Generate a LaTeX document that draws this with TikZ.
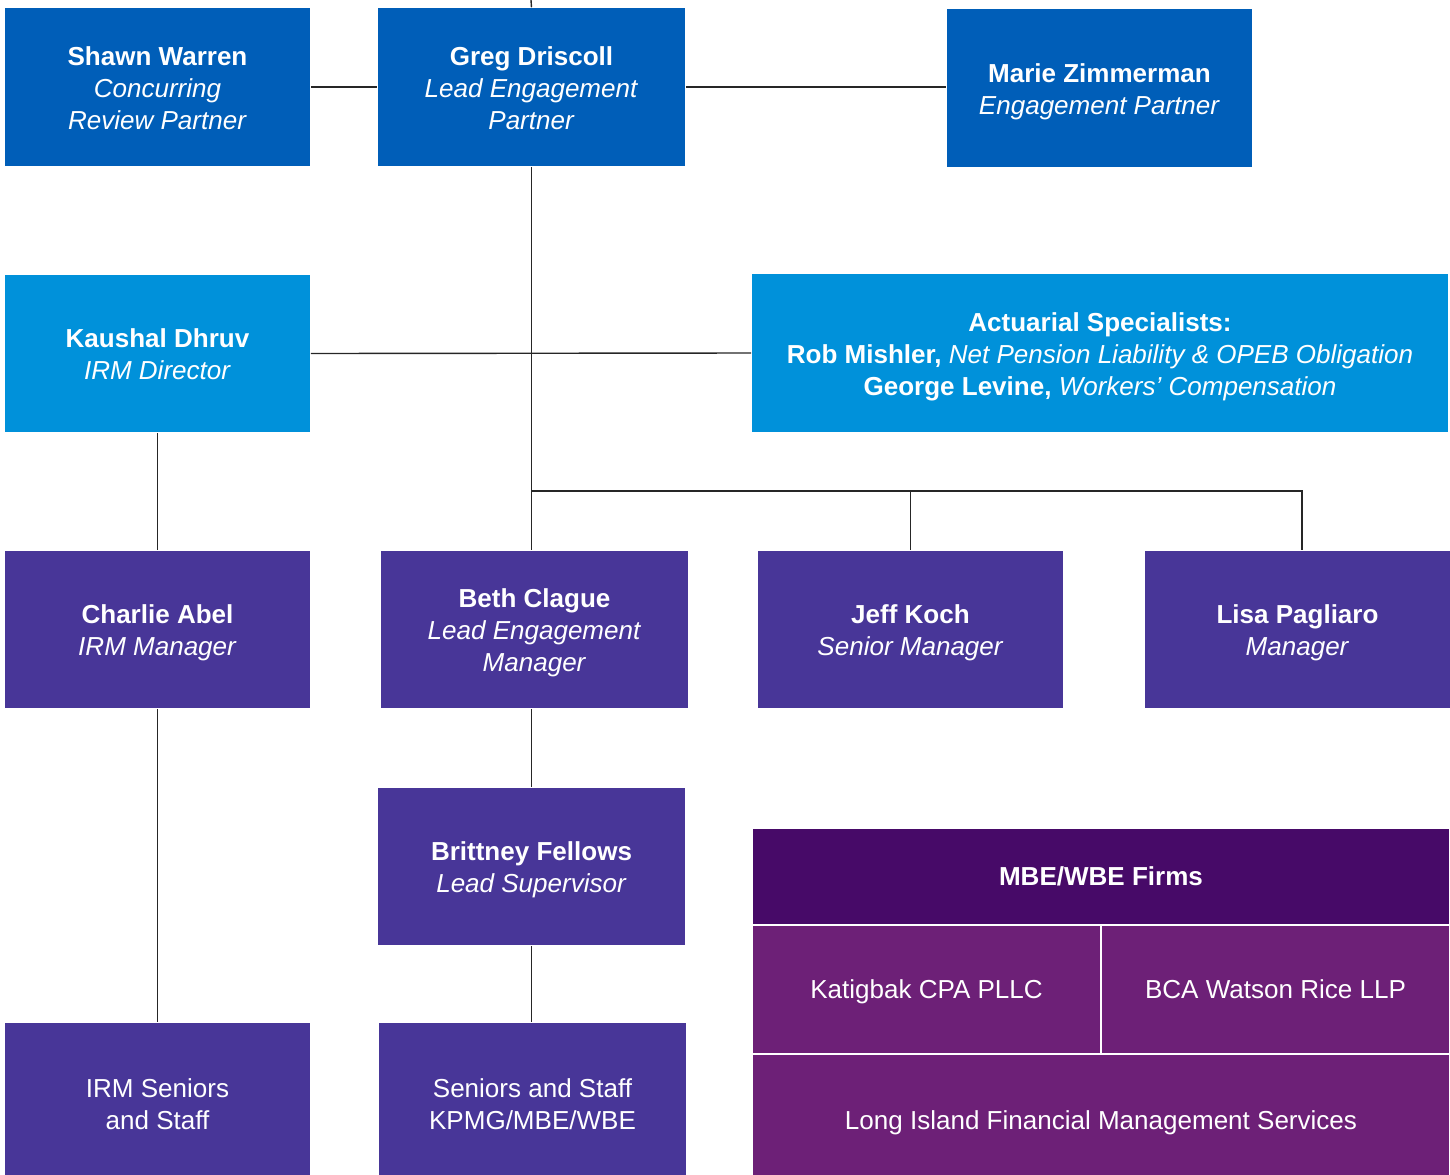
\documentclass[tikz,border=0pt]{standalone}
\usepackage{fontspec}
\setmainfont{Liberation Sans}
\definecolor{kpmgblue}{HTML}{005EB8}
\definecolor{medblue}{HTML}{0091DA}
\definecolor{kpmgpurple}{HTML}{483698}
\definecolor{darkpurple}{HTML}{470A68}
\definecolor{midpurple}{HTML}{6D2077}
\newcommand{\topline}{\rule{0pt}{7.7pt}}
\tikzstyle{person}=[rectangle, text=white, align=center, inner sep=0pt,
    minimum width=3.05cm, minimum height=1.57cm,
    font=\fontsize{7.4}{9.1}\selectfont,
    execute at end node={\rule[-2pt]{0pt}{2pt}}]
\tikzstyle{partner}=[person, fill=kpmgblue]
\tikzstyle{director}=[person, fill=medblue]
\tikzstyle{manager}=[person, fill=kpmgpurple]
\tikzstyle{firm}=[person, fill=midpurple, execute at begin node={\rule{0pt}{7.3pt}}]
\tikzstyle{link}=[draw=black!85, line width=0.4pt]

\begin{document}
\begin{tikzpicture}[x=0.01cm, y=-0.01cm]
  \useasboundingbox (0,0) rectangle (1450,1175);
  % partners
  \node[partner] (shawn) at (157.5,87) {\topline\textbf{Shawn Warren}\\\textit{Concurring}\\\textit{Review Partner}};
  \node[partner, minimum width=3.07cm, minimum height=1.58cm] (greg) at (531.5,87) {\topline\textbf{Greg Driscoll}\\\textit{Lead Engagement}\\\textit{Partner}};
  \node[partner] (marie) at (1099.5,88) {\topline\textbf{Marie Zimmerman}\\\textit{Engagement Partner}};
  \coordinate (top) at (531,0);
  % specialists
  \node[director] (kaushal) at (157.5,353.5) {\topline\textbf{Kaushal Dhruv}\\\textit{IRM Director}};
  \node[director, minimum width=6.96cm, minimum height=1.58cm] (actuarial) at (1100,353) {\topline\textbf{Actuarial Specialists:}\\\textbf{Rob Mishler,} \textit{Net Pension Liability \& OPEB Obligation}\\\textbf{George Levine,} \textit{Workers' Compensation}};
  % managers
  \node[manager] (charlie) at (157.5,629.5) {\topline\textbf{Charlie Abel}\\\textit{IRM Manager}};
  \node[manager, minimum width=3.07cm] (beth) at (534.5,629.5) {\topline\textbf{Beth Clague}\\\textit{Lead Engagement}\\\textit{Manager}};
  \node[manager] (jeff) at (910.5,629.5) {\topline\textbf{Jeff Koch}\\\textit{Senior Manager}};
  \node[manager] (lisa) at (1297.5,629.5) {\topline\textbf{Lisa Pagliaro}\\\textit{Manager}};
  \node[manager, minimum width=3.07cm] (brittney) at (531.5,866.5) {\topline\textbf{Brittney Fellows}\\\textit{Lead Supervisor}};
  \node[manager, minimum height=1.6cm] (irmstaff) at (157.5,1103) {\topline IRM Seniors\\and Staff};
  \node[manager, minimum width=3.07cm, minimum height=1.6cm] (staff) at (532.5,1103) {\topline Seniors and Staff\\KPMG/MBE/WBE};
  % firms
  \node[firm, fill=darkpurple, minimum width=6.96cm, minimum height=0.95cm] (mbe) at (1101,876.5) {\textbf{MBE/WBE Firms}};
  \node[firm, minimum width=3.47cm, minimum height=1.27cm] (katigbak) at (926.5,989.5) {Katigbak CPA PLLC};
  \node[firm, minimum width=3.47cm, minimum height=1.27cm] (bca) at (1275.5,989.5) {BCA Watson Rice LLP};
  \node[firm, minimum width=6.96cm, minimum height=1.3cm] (longisland) at (1101,1120) {Long Island Financial Management Services};
  % connectors
  \draw[link](top) -- (greg.north);
  \draw[link](shawn.east |- greg.west) -- (greg.west);
  \draw[link](greg.east) -- (marie.west |- greg.east);
  \draw[link](greg.south) -- (greg.south |- beth.north);
  \draw[link](kaushal.east) -- (actuarial.west);
  \coordinate (bus) at (531,491);
  \draw[link](bus) -| (jeff.north);
  \draw[link](bus) -| ([xshift=0.045cm]lisa.north);
  \draw[link](kaushal.south) -- (charlie.north);
  \draw[link](charlie.south) -- (irmstaff.north);
  \draw[link](brittney.north |- beth.south) -- (brittney.north);
  \draw[link](brittney.south) -- (brittney.south |- staff.north);
\end{tikzpicture}
\end{document}
